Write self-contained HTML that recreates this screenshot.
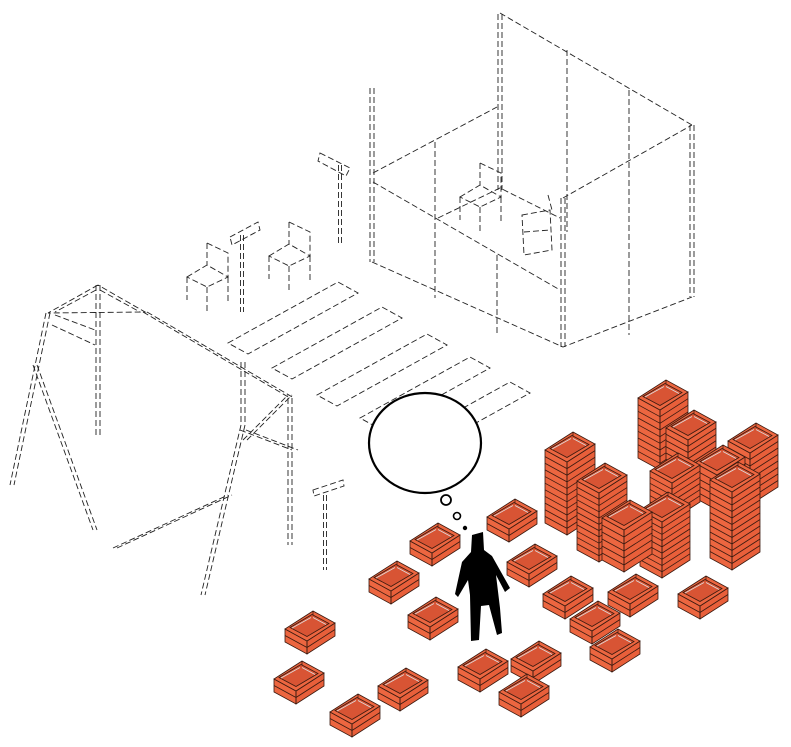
<!DOCTYPE html>
<html><head><meta charset="utf-8"><style>
html,body{margin:0;padding:0;background:#fff;}
svg{display:block}
</style></head><body>
<svg id="s" width="791" height="747" viewBox="0 0 791 747" xmlns="http://www.w3.org/2000/svg">
<g id="lines" fill="none" stroke="#222" stroke-width="0.9" stroke-dasharray="6 3"></g>
<ellipse cx="425" cy="443" rx="56" ry="50" fill="#fff" stroke="#000" stroke-width="2.2"/>
<circle cx="446" cy="500" r="5" fill="#fff" stroke="#000" stroke-width="1.8"/>
<circle cx="457" cy="516" r="3.5" fill="#fff" stroke="#000" stroke-width="1.6"/>
<circle cx="465" cy="528" r="2.2" fill="#000"/>
<g id="crates" stroke="#3a1a10" stroke-width="0.8"></g>
<path d="M472 535 L483 532 L484 550 L492 556 L510 588 L505 592 L496 575 L500 608 L502 633 L497 635 L489 605 L481 606 L479 640 L471 641 L470 595 L468 580 L458 597 L455 594 L462 562 L471 552 Z" fill="#000"/>
</svg>
<script>
const NS="http://www.w3.org/2000/svg";
const L=document.getElementById('lines');
function ln(pts,close){const p=document.createElementNS(NS,'path');p.setAttribute('d','M'+pts.map(a=>a.join(' ')).join(' L')+(close?' Z':''));L.appendChild(p);}
function post(x1,y1,x2,y2,o){o=o||2;ln([[x1-o,y1],[x2-o,y2]]);ln([[x1+o,y1],[x2+o,y2]]);}
post(372,88,372,262,2);post(500,14,500,190,2);post(692,125,692,297,2);post(563,198,563,347,2);
ln([[373,173],[497,107]]);
ln([[373,182],[560,290]]);
ln([[438,218],[500,188],[560,218]]);
ln([[500,13],[692,125]]);ln([[563,198],[692,125]]);
ln([[372,262],[563,347],[692,297]]);
ln([[435,142],[435,298]]);ln([[497,255],[497,333]]);ln([[567,50],[567,232]]);ln([[629,90],[629,335]]);
function chair(x,y){ln([[x+20,y],[x+41,y+10],[x+41,y+34]]);ln([[x+20,y],[x+20,y+22]]);
 ln([[x,y+34],[x+20,y+22],[x+41,y+34],[x+20,y+44]],true);
 ln([[x,y+34],[x,y+57]]);ln([[x+20,y+44],[x+20,y+68]]);ln([[x+41,y+34],[x+41,y+58]]);}
chair(187,243);chair(269,222);chair(460,163);
ln([[522,215],[550,210],[552,250],[524,255]],true);ln([[524,232],[550,230]]);ln([[548,195],[552,210]]);
post(340,165,340,243,1.5);post(242,235,242,312,1.5);post(325,495,325,570,1.5);
ln([[320,153],[350,168],[346,176],[318,161]],true);
ln([[230,237],[258,222],[260,230],[232,245]],true);
ln([[313,490],[343,480],[344,486],[314,496]],true);
function slat(x,y){ln([[x,y],[x+110,y-61],[x+130,y-50],[x+20,y+11]],true);}
slat(228,343);slat(272,368);slat(317,395);slat(360,418);slat(400,443);
ln([[98,285],[48,313],[145,312],[98,285]]);ln([[96,290],[55,312]]);ln([[100,290],[140,312]]);
post(98,285,98,435,2);post(48,313,12,485,2);post(145,312,292,398,2);
post(243,362,243,425,2);post(290,398,290,545,2);
post(35,365,95,530,2);post(243,425,203,595,2);
post(115,548,230,495,2);post(243,430,295,450,3);post(245,440,290,395,2);
ln([[52,325],[95,345]]);ln([[55,315],[95,330]]);
const C=document.getElementById('crates');
function poly(pts,fill){const p=document.createElementNS(NS,'polygon');p.setAttribute('points',pts.map(a=>a.join(',')).join(' '));p.setAttribute('fill',fill);C.appendChild(p);}
function line(a,b,c){const p=document.createElementNS(NS,'line');p.setAttribute('x1',a[0]);p.setAttribute('y1',a[1]);p.setAttribute('x2',b[0]);p.setAttribute('y2',b[1]);if(c)p.setAttribute('stroke',c);C.appendChild(p);}
function crate(fx,fy,h){const col='#ec6640';
 const F=[fx,fy],Lp=[fx-22,fy-12],R=[fx+28,fy-18],T=[fx+6,fy-30];
 poly([Lp,F,[fx,fy+h],[fx-22,fy-12+h]],col);
 poly([F,R,[fx+28,fy-18+h],[fx,fy+h]],'#e85f3a');
 poly([Lp,T,R,F],col);
 const Fi=[fx,fy-4.5],Li=[fx-17,fy-13.5],Ri=[fx+22,fy-17.5],Ti=[fx+5,fy-26.5];
 poly([Li,Ti,Ri,Fi],'#d85434');
 line([Li[0]+2,Li[1]+0.5],[Ti[0]-1,Ti[1]+3],'#ddd');line([Ti[0]+1,Ti[1]+3],[Ri[0]-3,Ri[1]+1],'#ddd');
 line(T,[T[0],T[1]+4]);
 const n=Math.max(2,Math.round(h/6.5));
 for(let i=1;i<n;i++){const d=h*i/n;line([fx-22,fy-12+d],[fx,fy+d]);line([fx,fy+d],[fx+28,fy-18+d]);}
 line(F,[fx,fy+h]);
}
const singles=[[410,522],[487,498],[507,543],[369,560],[408,596],[285,610],[274,660],[378,667],[330,693],[458,648],[511,640],[499,673],[543,575],[570,600],[590,628],[608,573],[678,575]];
const stacks=[[545,432,535],[577,463,562],[602,500,572],[640,492,578],[638,380,470],[666,410,490],[650,453,520],[695,445,510],[728,423,505],[710,462,570]];
const items=[];
singles.forEach(s=>items.push([s[0]+22,s[1]+31,13]));
stacks.forEach(s=>items.push([s[0]+22,s[1]+30,s[2]-(s[1]+30)]));
items.sort((a,b)=>a[1]-b[1]).forEach(a=>crate(a[0],a[1],a[2]));
</script>
</body></html>
